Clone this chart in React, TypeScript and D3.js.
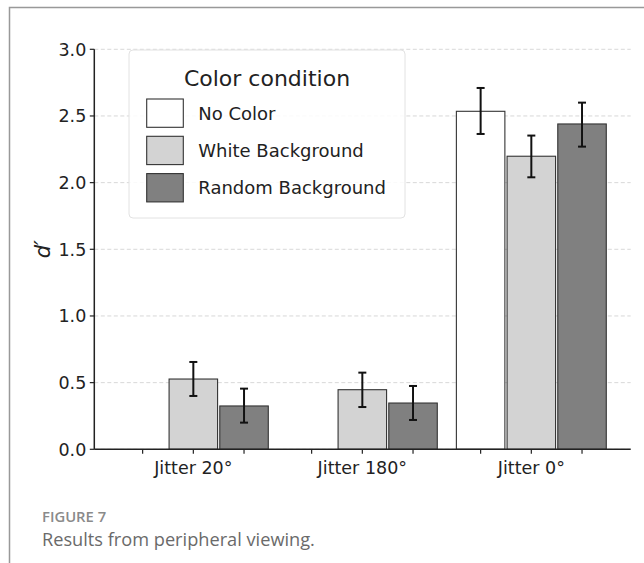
import React from "react";
import * as d3 from "d3";

const categories = ["Jitter 20°", "Jitter 180°", "Jitter 0°"];
const seriesNames = ["No Color", "White Background", "Random Background"];
const seriesFills = ["#ffffff", "#d3d3d3", "#808080"];

const noColor: (number | null)[] = [null, null, 2.535];
const whiteBackground: (number | null)[] = [0.527, 0.447, 2.198];
const randomBackground: (number | null)[] = [0.325, 0.347, 2.44];

const noColorLow: (number | null)[] = [null, null, 2.365];
const noColorHigh: (number | null)[] = [null, null, 2.71];
const whiteLow: (number | null)[] = [0.4, 0.317, 2.04];
const whiteHigh: (number | null)[] = [0.655, 0.575, 2.353];
const randomLow: (number | null)[] = [0.2, 0.22, 2.27];
const randomHigh: (number | null)[] = [0.455, 0.475, 2.6];

const yTicks = [0, 0.5, 1.0, 1.5, 2.0, 2.5, 3.0];

const values = [noColor, whiteBackground, randomBackground];
const lows = [noColorLow, whiteLow, randomLow];
const highs = [noColorHigh, whiteHigh, randomHigh];

const W = 644;
const H = 563;
const axisLeft = 94.3;
const axisRight = 630.7;
const yTop = 49.3;
const yBottom = 449.3;

const barStep = 0.3; // category units between bar centers
const barWidth = 0.287;

export default function App() {
  const x = d3.scaleLinear().domain([-0.586, 2.588]).range([axisLeft, axisRight]);
  const y = d3.scaleLinear().domain([0, 3]).range([yBottom, yTop]);
  const fmt = d3.format(".1f");
  const font = "'DejaVu Sans', sans-serif";

  const bars: React.ReactNode[] = [];
  const errs: React.ReactNode[] = [];
  const xTickPos: number[] = [];
  categories.forEach((_, ci) => {
    seriesNames.forEach((_, si) => {
      const c = ci + (si - 1) * barStep;
      xTickPos.push(x(c));
      const v = values[si][ci];
      if (v == null) return;
      const x0 = x(c - barWidth / 2);
      const x1 = x(c + barWidth / 2);
      bars.push(
        <rect
          key={`b${ci}-${si}`}
          x={x0}
          y={y(v)}
          width={x1 - x0}
          height={y(0) - y(v)}
          fill={seriesFills[si]}
          stroke="#333"
          strokeWidth={1.1}
        />
      );
      const lo = lows[si][ci];
      const hi = highs[si][ci];
      if (lo != null && hi != null) {
        const cx = x(c);
        errs.push(
          <g key={`e${ci}-${si}`} stroke="#111" strokeWidth={2}>
            <line x1={cx} x2={cx} y1={y(lo)} y2={y(hi)} />
            <line x1={cx - 4} x2={cx + 4} y1={y(lo)} y2={y(lo)} />
            <line x1={cx - 4} x2={cx + 4} y1={y(hi)} y2={y(hi)} />
          </g>
        );
      }
    });
  });

  const legX = 129;
  const legY = 50;
  const legW = 276;
  const legH = 168;

  return (
    <div style={{ position: "absolute", left: 0, top: 0 }}>
      <svg width={W} height={H} style={{ display: "block" }}>
        <rect x={0} y={0} width={W} height={H} fill="#fff" />
        {/* figure frame */}
        <path d={`M9.5,${H + 2} L9.5,7.5 L${W + 2},7.5`} fill="none" stroke="#999" strokeWidth={1.5} />

        {/* grid */}
        {yTicks.map((t) => (
          <line
            key={`g${t}`}
            x1={axisLeft}
            x2={axisRight}
            y1={y(t)}
            y2={y(t)}
            stroke="#d4d4d4"
            strokeWidth={0.9}
            strokeDasharray="4,2.5"
          />
        ))}

        {bars}
        {errs}

        {/* axes */}
        <line x1={axisLeft} x2={axisLeft} y1={yTop} y2={yBottom} stroke="#222" strokeWidth={1.5} />
        <line x1={axisLeft} x2={axisRight} y1={yBottom} y2={yBottom} stroke="#222" strokeWidth={1.5} />
        {yTicks.map((t) => (
          <g key={`yt${t}`}>
            <line x1={axisLeft - 4.5} x2={axisLeft} y1={y(t)} y2={y(t)} stroke="#222" strokeWidth={1.2} />
            <text
              x={axisLeft - 8}
              y={y(t)}
              dy="0.36em"
              textAnchor="end"
              fontFamily={font}
              fontSize={17.5}
              fill="#222"
            >
              {fmt(t)}
            </text>
          </g>
        ))}
        {xTickPos.map((p, i) => (
          <line key={`xt${i}`} x1={p} x2={p} y1={yBottom} y2={yBottom + 4.5} stroke="#222" strokeWidth={1.2} />
        ))}
        {categories.map((c, i) => (
          <text
            key={`xl${i}`}
            x={x(i)}
            y={yBottom + 25}
            textAnchor="middle"
            fontFamily={font}
            fontSize={17.5}
            fill="#222"
          >
            {c}
          </text>
        ))}

        <text
          transform={`translate(43,${(yTop + yBottom) / 2}) rotate(-90)`}
          textAnchor="middle"
          fontFamily={font}
          fontStyle="italic"
          fontSize={21}
          fill="#222"
          dy="0.35em"
        >
          d′
        </text>

        {/* legend */}
        <rect
          x={legX}
          y={legY}
          width={legW}
          height={legH}
          rx={4}
          fill="#fff"
          fillOpacity={0.85}
          stroke="#e2e2e2"
          strokeWidth={1}
        />
        <text
          x={legX + legW / 2}
          y={86}
          textAnchor="middle"
          fontFamily={font}
          fontSize={22}
          fill="#222"
        >
          Color condition
        </text>
        {seriesNames.map((s, i) => {
          const top = 99 + i * 37.3;
          return (
            <g key={`lg${i}`}>
              <rect x={146.7} y={top} width={36.6} height={28.3} fill={seriesFills[i]} stroke="#333" strokeWidth={1.1} />
              <text x={198.3} y={top + 14.2} dy="0.36em" fontFamily={font} fontSize={18} fill="#222">
                {s}
              </text>
            </g>
          );
        })}

        {/* caption */}
        <text x={42} y={521.5} fontFamily="'Open Sans', sans-serif" fontSize={14.8} fontWeight={600} fill="#8a8a8a">
          FIGURE 7
        </text>
        <text x={42} y={546} fontFamily="'Open Sans', sans-serif" fontSize={18.2} fill="#6a6a6a">
          Results from peripheral viewing.
        </text>
      </svg>
    </div>
  );
}
